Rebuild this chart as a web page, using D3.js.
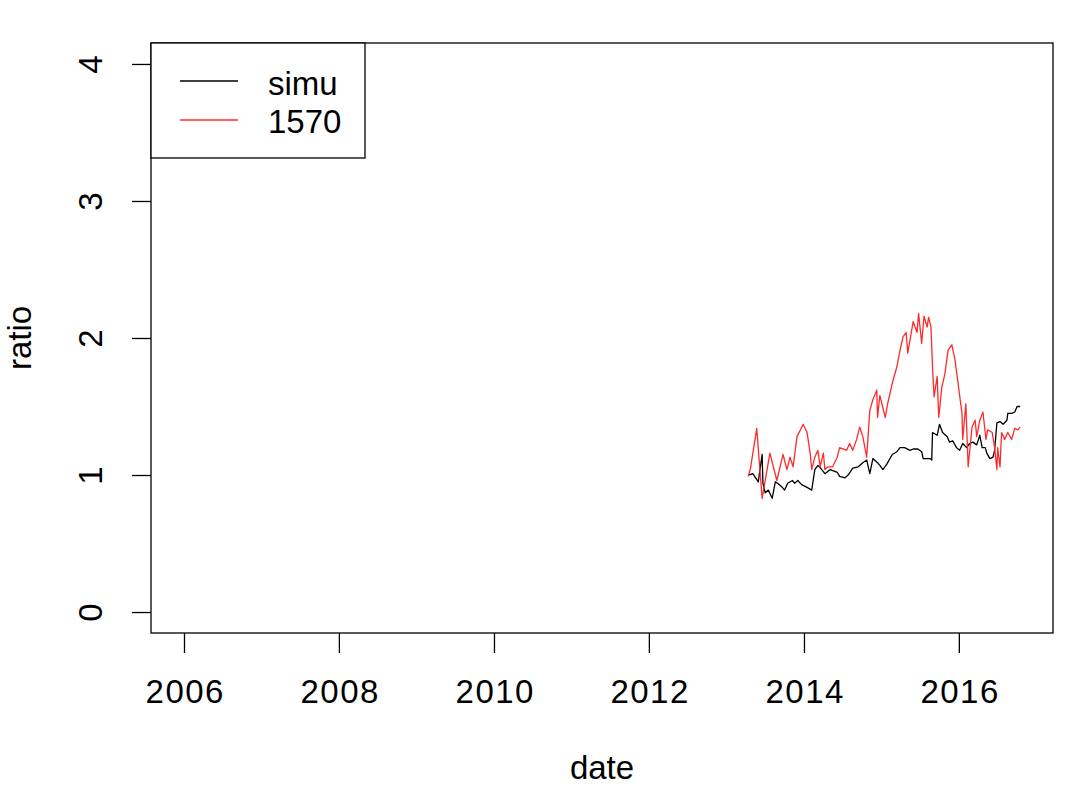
<!DOCTYPE html>
<html>
<head>
<meta charset="utf-8">
<script src="https://cdn.jsdelivr.net/npm/d3@7"></script>
<style>
  body { margin: 0; background: #fff; }
  svg text { font-family: "Liberation Sans", Arial, sans-serif; fill: #000; }
</style>
</head>
<body>
<svg id="chart" width="1084" height="790"></svg>
<script>
// ---- data (decimal years, ratio values) ----
const simuYears = [2013.28,2013.34,2013.41,2013.46,2013.47,2013.50,2013.54,2013.59,2013.63,2013.66,2013.72,2013.75,2013.79,2013.85,2013.88,2013.92,2013.97,2014.04,2014.10,2014.14,2014.18,2014.23,2014.27,2014.34,2014.43,2014.46,2014.53,2014.57,2014.63,2014.70,2014.76,2014.81,2014.85,2014.89,2014.95,2014.98,2015.02,2015.07,2015.14,2015.20,2015.24,2015.30,2015.37,2015.41,2015.47,2015.52,2015.54,2015.63,2015.65,2015.66,2015.72,2015.75,2015.79,2015.85,2015.88,2015.92,2015.97,2016.01,2016.05,2016.10,2016.14,2016.18,2016.23,2016.27,2016.30,2016.34,2016.36,2016.40,2016.44,2016.46,2016.49,2016.53,2016.57,2016.62,2016.63,2016.68,2016.72,2016.75,2016.79];
const simuValues = [1.00,1.01,0.95,1.15,0.94,0.87,0.89,0.83,0.95,0.94,0.91,0.89,0.94,0.96,0.94,0.96,0.93,0.91,0.89,1.04,1.07,1.04,1.01,1.04,1.02,0.99,0.98,1.00,1.05,1.06,1.09,1.11,1.01,1.12,1.09,1.07,1.04,1.08,1.15,1.17,1.20,1.20,1.18,1.19,1.19,1.17,1.12,1.12,1.11,1.31,1.29,1.37,1.31,1.28,1.24,1.25,1.20,1.18,1.23,1.20,1.23,1.24,1.22,1.29,1.20,1.20,1.16,1.12,1.13,1.18,1.38,1.39,1.37,1.40,1.45,1.45,1.46,1.50,1.50];

const s1570Years = [2013.28,2013.31,2013.39,2013.46,2013.56,2013.65,2013.73,2013.78,2013.82,2013.86,2013.91,2013.99,2014.04,2014.08,2014.10,2014.14,2014.18,2014.21,2014.25,2014.27,2014.31,2014.37,2014.43,2014.46,2014.55,2014.59,2014.63,2014.68,2014.72,2014.76,2014.81,2014.85,2014.89,2014.94,2014.95,2014.98,2015.05,2015.08,2015.15,2015.20,2015.24,2015.28,2015.32,2015.34,2015.41,2015.46,2015.48,2015.52,2015.55,2015.59,2015.61,2015.64,2015.66,2015.68,2015.72,2015.74,2015.78,2015.82,2015.86,2015.91,2015.95,2015.99,2016.04,2016.05,2016.09,2016.12,2016.17,2016.21,2016.23,2016.27,2016.31,2016.35,2016.37,2016.43,2016.46,2016.49,2016.50,2016.53,2016.55,2016.59,2016.63,2016.68,2016.72,2016.76,2016.79];
const s1570Values = [0.99,1.05,1.34,0.83,1.16,0.96,1.15,1.04,1.13,1.06,1.28,1.37,1.31,1.16,1.04,1.13,1.18,1.06,1.16,1.04,1.06,1.06,1.13,1.20,1.18,1.23,1.18,1.26,1.35,1.28,1.13,1.47,1.55,1.62,1.42,1.58,1.42,1.52,1.69,1.79,1.91,2.01,2.04,1.89,2.12,2.04,2.18,1.96,2.16,2.08,2.15,2.08,1.79,1.57,1.72,1.42,1.64,1.74,1.91,1.95,1.84,1.67,1.45,1.26,1.52,1.06,1.35,1.40,1.28,1.40,1.46,1.26,1.33,1.31,1.20,1.04,1.20,1.06,1.31,1.26,1.31,1.26,1.34,1.33,1.35];

const xTickYears = [2006, 2008, 2010, 2012, 2014, 2016];
const yTickValues = [0, 1, 2, 3, 4];
const seriesNames = ["simu", "1570"];
const seriesColors = ["#000000", "#ff2a2a"];

// ---- helpers ----
function yearToDate(v) {
  const yr = Math.floor(v);
  const start = new Date(Date.UTC(yr, 0, 1));
  const end = new Date(Date.UTC(yr + 1, 0, 1));
  return new Date(start.getTime() + (v - yr) * (end - start));
}

const svg = d3.select("#chart");
const pLeft = 151, pRight = 1053, pTop = 43, pBottom = 633;
const FS = 33;
const FONT = '"Liberation Sans", Arial, sans-serif';

const x = d3.scaleUtc()
  .domain([yearToDate(2005.574), yearToDate(2017.213)])
  .range([pLeft, pRight]);
const y = d3.scaleLinear()
  .domain([-0.153, 4.153])
  .range([pBottom, pTop]);

// plot box
svg.append("rect")
  .attr("x", pLeft).attr("y", pTop)
  .attr("width", pRight - pLeft).attr("height", pBottom - pTop)
  .attr("fill", "none").attr("stroke", "#000").attr("stroke-width", 1.3);

// x axis
const xAxis = d3.axisBottom(x)
  .tickValues(xTickYears.map(d => yearToDate(d)))
  .tickFormat(d3.utcFormat("%Y"))
  .tickSize(20).tickPadding(27);
const gx = svg.append("g").attr("transform", `translate(0,${pBottom})`).call(xAxis);
gx.select(".domain").attr("stroke", "none");
gx.selectAll(".tick line").attr("stroke", "#000").attr("stroke-width", 1.3);
gx.selectAll(".tick text").attr("font-size", FS).attr("fill", "#000")
  .attr("letter-spacing", 1.5).attr("dx", 0.75)
  .style("font-family", FONT);

// y axis
const yAxis = d3.axisLeft(y).tickValues(yTickValues).tickFormat(d3.format("d"))
  .tickSize(19).tickPadding(10);
const gy = svg.append("g").attr("transform", `translate(${pLeft},0)`).call(yAxis);
gy.select(".domain").attr("stroke", "none");
gy.selectAll(".tick line").attr("stroke", "#000").attr("stroke-width", 1.3);
gy.selectAll(".tick text")
  .attr("font-size", FS).attr("fill", "#000")
  .attr("text-anchor", "middle")
  .attr("x", null).attr("dy", null)
  .attr("transform", "translate(-49,0) rotate(-90)")
  .style("font-family", FONT);

// axis titles
svg.append("text").attr("x", 602).attr("y", 779)
  .attr("text-anchor", "middle")
  .attr("font-size", FS).text("date");
svg.append("text")
  .attr("transform", "translate(31,338) rotate(-90)")
  .attr("text-anchor", "middle")
  .attr("font-size", FS).text("ratio");

// lines
const line = d3.line().x(d => x(d[0])).y(d => y(d[1]));
const simuData = simuYears.map((yr, i) => [yearToDate(yr), simuValues[i]]);
const s1570Data = s1570Years.map((yr, i) => [yearToDate(yr), s1570Values[i]]);

svg.append("path").datum(simuData).attr("d", line)
  .attr("fill", "none").attr("stroke", seriesColors[0]).attr("stroke-width", 1.3)
  .attr("stroke-linejoin", "round");
svg.append("path").datum(s1570Data).attr("d", line)
  .attr("fill", "none").attr("stroke", seriesColors[1]).attr("stroke-width", 1.3)
  .attr("stroke-linejoin", "round");

// legend
const legend = svg.append("g");
legend.append("rect").attr("x", pLeft).attr("y", pTop).attr("width", 214).attr("height", 115)
  .attr("fill", "#fff").attr("stroke", "#000").attr("stroke-width", 1.3);
seriesNames.forEach((name, i) => {
  const ly = 81 + i * 39;
  legend.append("line").attr("x1", 180).attr("x2", 238).attr("y1", ly).attr("y2", ly)
    .attr("stroke", seriesColors[i]).attr("stroke-width", 1.3);
  legend.append("text").attr("x", 268).attr("y", 95 + i * 37.5)
    .attr("font-size", FS).text(name);
});
</script>
</body>
</html>
